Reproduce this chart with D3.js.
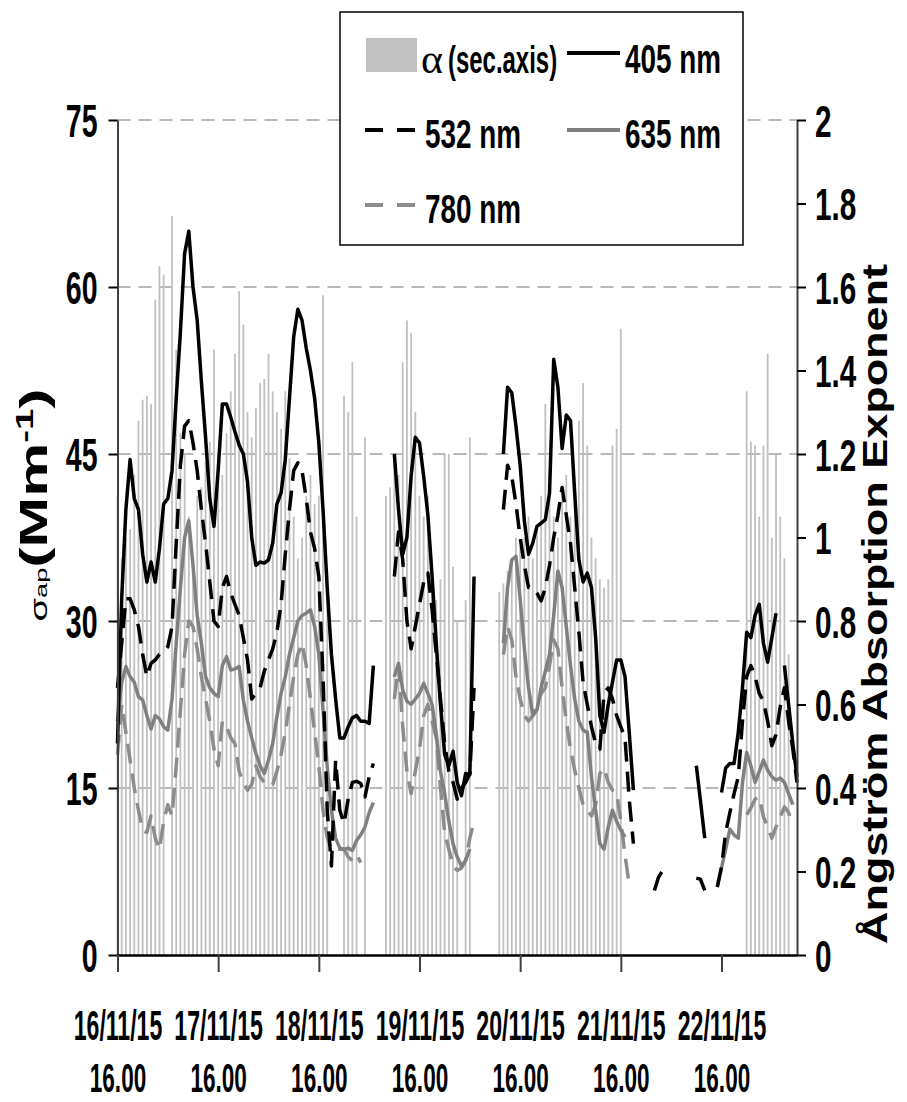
<!DOCTYPE html>
<html>
<head>
<meta charset="utf-8">
<title>Absorption coefficients and Ångström exponent</title>
<script src="https://cdnjs.cloudflare.com/ajax/libs/d3/7.8.5/d3.min.js"></script>
<style>
  body { margin: 0; background: #fff; }
  svg text { font-family: "Liberation Sans", Arial, sans-serif; font-weight: bold; fill: #000; }
</style>
</head>
<body>
<script>
// hourly readings, index = hours since 16/11/15 16.00
var n = null;

var dayTicks = [0, 24, 48, 72, 96, 120, 144];
var dayLabels = ["16/11/15", "17/11/15", "18/11/15", "19/11/15", "20/11/15", "21/11/15", "22/11/15"];
var timeLabel = "16.00";
var leftTicks = [0, 15, 30, 45, 60, 75];
var rightTicks = [0, 0.2, 0.4, 0.6, 0.8, 1, 1.2, 1.4, 1.6, 1.8, 2];

var s405 = [
  19, 32, 40, 44.5, 41, 40, 36, 33.5, 35.3, 33.5, 36.5, 40.5,
  41, 43.5, 50, 56, 63, 65, 60, 57, 51.5, 46.5, 41, 38.5,
  43.5, 49.5, 49.5, 48.3, 47, 45.8, 45, 42.5, 37.5, 35, 35.3, 35.2,
  35.5, 37, 40.5, 41.5, 44.5, 50, 55.5, 58, 57, 54.5, 52.5, 50,
  46, 40, 33, 27, 23, 19.5, 19.5, 20.5, 21.3, 21.5, 21, 21,
  20.8, 26, n, n, n, n, 45, 40, 36, 37.5, 43, 46.5,
  46, 43, 39.5, 34, 28, 22.5, 18, 17, 18.3, 15.5, 14.3, 16.3,
  16.2, 34, n, n, n, n, n, n, 45, 51, 50.5, 47.5,
  44, 39, 36, 37, 38.5, 38.8, 39.1, 41.5, 53.5, 51, 45.5, 48.5,
  48, 41.5, 35.5, 33.5, 34.3, 33, 28.5, 21.5, 20, 22.5, 24.5, 26.5,
  26.5, 25, 20, 14.8, n, n, n, n, n, n, n, n,
  n, n, n, n, n, n, 17, 13.8, 10.5, n, n, n,
  14.6, 16.8, 17.2, 17.2, 20, 24, 29, 28.5, 30.5, 31.5, 28, 26.3,
  28.5, 30.7, n, 26, 22.5, 19, 16
];

var s532 = [
  24, 28, 32, 32, 31, 29.5, 27, 25, 26.2, 26.5, 27, 27.2,
  27.7, 29.5, 37, 44, 47.5, 48, 46, 43.5, 40, 37, 33.5, 30,
  29.5, 33, 34, 32.5, 31.5, 30.5, 28.5, 26.5, 23, 23.5, 24, 25.5,
  26.5, 27.5, 29, 31.5, 36, 40, 43.5, 44.2, 43.5, 41, 38, 36.5,
  34, 25, 13, 8, 17.5, 13, 11.8, 14, 15.5, 15.6, 15.4, 14.2,
  16, 17.2, n, n, n, n, 34, 38, 35.5, 30, 27.5, 29.5,
  31.5, 33.5, 34.3, 31, 27, 23, 19, 16.5, 15.5, 14, 15, 15.5,
  16.3, 24, n, n, n, n, n, n, 40, 44, 43, 40.5,
  37.5, 35, 33, 33, 32.5, 31.8, 33, 35, 37.5, 39.5, 42, 39.5,
  37, 33, 29, 24.5, 22.5, 20.5, 19, 18.5, 23.5, 24, 23, 21.5,
  20.5, 19.5, 14, 10, n, n, n, n, 5.8, 7, 7.6, n,
  n, n, n, n, n, n, 6.9, 6.8, 5.8, n, n, 6.1,
  7.9, 11, 12.8, 14.5, 16, 21, 25, 26, 25, 23.5, 22.8, 21,
  18.8, 19.8, 22.3, 24, 21, 18.5, 15.5
];

var s635 = [
  21, 24.5, 25.9, 25, 24.5, 23.2, 22.9, 21.5, 20.3, 21.5, 21.2, 20.5,
  20.2, 23, 28, 33, 37.5, 39, 35, 30.5, 28, 25, 24, 23.5,
  23.2, 26, 26.8, 25.6, 25.7, 25.9, 22.9, 21, 19.5, 18.1, 17, 16.3,
  17.5, 19, 21.4, 23.5, 25, 27, 28.5, 30, 30.5, 30.7, 31, 29.5,
  27, 22, 16.9, 13, 10.5, 9.6, 9.5, 9.6, 9.4, 10.3, 10.8, 11.5,
  12.8, 13.7, n, n, n, n, 25, 26.2, 23.8, 22.8, 22.5, 23,
  23.5, 24.4, 23.5, 22.5, 19.8, 16.5, 14.5, 12, 10, 8.8, 8, 8.5,
  9.5, n, n, n, n, n, n, n, 28, 33, 35.5, 35.8,
  32, 27.5, 24, 21.5, 22, 24, 25.5, 27, 30.5, 34.5, 33, 29.5,
  26, 23, 21, 20.2, 20, 16, 13, 10, 9.5, 11.5, 13, 12,
  11.2, 10.6, n, n, n, n, n, n, n, n, n, n,
  n, n, n, n, n, n, n, n, n, n, n, 6.2,
  7.8, 9.5, 11.3, 10.8, 10.5, 15.5, 18.2, 17, 15.5, 16.5, 17.5, 16.6,
  16, 15.7, 15.9, 15.5, 14.5, 13.5, n
];

var s780 = [
  18, 22.5, 20, 17.5, 15, 13, 11.2, 11, 12.5, 10.5, 9.5, 12,
  13.5, 12.5, 17, 22, 27, 30, 29.5, 27.5, 25, 23, 21, 18.5,
  17, 21, 20.5, 19.5, 19, 16.5, 15.5, 14.8, 15.3, 17, 16, 15.5,
  15.2, 15.3, 16.5, 18, 20, 22.5, 25, 27, 28, 26, 23, 20,
  17, 13, 10.5, 9.5, 9.5, 9.5, 9.5, 8.8, 8.5, 9, 8.3, n,
  n, n, n, n, n, n, 23, 26, 20.5, 16.5, 14.5, 16.5,
  18.5, 21.5, 22.5, 21, 19.5, 15, 11, 9.5, 8, 7.6, 7.8, 8.5,
  10.5, 12, n, n, n, n, n, n, 27, 29.5, 28.3, 25,
  23, 21.5, 21, 21.5, 22.5, 23.5, 24, 26, 28.3, 27.5, 24, 21,
  18.5, 16.6, 15, 13.5, 13, 12.5, 13.5, 16.3, 16.8, 15.5, 14.8, 14.6,
  12, 9, 6.3, n, n, n, n, n, n, n, n, n,
  n, n, n, n, n, n, n, n, n, n, n, n,
  n, n, n, n, n, n, 12.6, 13.2, 14, 14.2, 12.4, 11.5,
  10.5, 11.5, 12.4, 13.3, 12.8, 11.7, n
];

// Ångström absorption exponent (secondary axis)
var alpha = [
  1.1, 0.95, 1.0, 1.02, 1.15, 1.28, 1.33, 1.34, 1.32, 1.57, 1.65, 1.63,
  n, 1.77, 1.45, 1.25, 1.2, 1.05, 0.95, 1.1, 1.12, 1.18, 1.23, 1.45,
  1.2, 1.15, 1.25, 1.35, 1.44, 1.59, 1.51, 1.3, 1.24, 1.31, 1.37, 1.38,
  1.44, 1.35, 1.3, 1.26, 1.35, 1.19, 1.05, 0.95, 1.0, 1.1, 1.15, 1.08,
  1.1, 1.58, 0.9, n, n, n, 1.34, 1.3, 1.42, 1.05, n, 1.24,
  n, n, n, n, 1.1, 1.12, 1.2, 1.15, 1.42, 1.52, 1.49, 1.3,
  1.1, 1.05, 1.1, 0.95, 0.85, 0.9, 1.2, 1.2, 0.93, 0.8, n, 0.85,
  1.24, n, n, n, n, n, n, 0.87, 0.89, 0.92, 0.95, 1.0,
  0.98, 1.0, 1.05, 0.95, 1.02, 1.1, 1.32, 1.15, 1.05, 1.0, 1.1, 1.15,
  1.05, 1.1, 1.28, 1.37, 1.22, 1.0, 0.95, 0.9, 0.88, 0.9, 1.22, 1.26,
  1.5, n, n, n, n, n, n, n, n, n, n, n,
  n, n, n, n, n, n, n, n, n, n, n, n,
  n, n, n, n, n, n, 1.35, 1.23, 1.22, 1.05, 1.22, 1.44,
  1.0, 1.2, 1.05, 0.95, 0.72, n, n
];

var W = 907, H = 1102;
var plotL = 117.5, plotR = 797, plotT = 120, plotB = 955;

var svg = d3.select("body").append("svg")
  .attr("width", W)
  .attr("height", H);

var x = d3.scaleLinear().domain([0, 162]).range([plotL, plotR]);
var yL = d3.scaleLinear().domain([0, 75]).range([plotB, plotT]);
var yR = d3.scaleLinear().domain([0, 2]).range([plotB, plotT]);

// dashed gridlines
svg.append("g").selectAll("line")
  .data(leftTicks.filter(function(d) { return d > 0; }))
  .join("line")
  .attr("x1", plotL).attr("x2", plotR)
  .attr("y1", function(d) { return yL(d); })
  .attr("y2", function(d) { return yL(d); })
  .attr("stroke", "#b8b8b8")
  .attr("stroke-width", 2)
  .attr("stroke-dasharray", "13,8");

// alpha bars
svg.append("g").selectAll("rect")
  .data(alpha.map(function(a, i) { return { i: i, a: a }; }).filter(function(d) { return d.a != null; }))
  .join("rect")
  .attr("x", function(d) { return x(d.i) - 0.9; })
  .attr("width", 1.8)
  .attr("y", function(d) { return yR(d.a); })
  .attr("height", function(d) { return yR(0) - yR(d.a); })
  .attr("fill", "#c0c0c0");

// lines
var line = d3.line()
  .defined(function(d) { return d != null; })
  .x(function(d, i) { return x(i); })
  .y(function(d) { return yL(d); });

var series = [
  { data: s780, color: "#8c8c8c", dash: "20,10" },
  { data: s635, color: "#808080", dash: null },
  { data: s532, color: "#000", dash: "20,10" },
  { data: s405, color: "#000", dash: null }
];

svg.append("g").selectAll("path")
  .data(series)
  .join("path")
  .attr("d", function(s) { return line(s.data); })
  .attr("fill", "none")
  .attr("stroke", function(s) { return s.color; })
  .attr("stroke-width", 3.5)
  .attr("stroke-linejoin", "round")
  .attr("stroke-dasharray", function(s) { return s.dash; });

// left axis
var gL = svg.append("g")
  .attr("transform", "translate(" + plotL + ",0)")
  .call(d3.axisLeft(yL).tickValues(leftTicks).tickSize(9).tickSizeOuter(0));
gL.select(".domain").attr("stroke", "#404040").attr("stroke-width", 2);
gL.selectAll(".tick line").attr("stroke", "#000").attr("stroke-width", 2);
gL.selectAll(".tick text")
  .attr("x", -20 / 0.62)
  .attr("dy", "0.36em")
  .attr("transform", "scale(0.62,1)")
  .style("font-size", "46px");

// right axis
var gR = svg.append("g")
  .attr("transform", "translate(" + plotR + ",0)")
  .call(d3.axisRight(yR).tickValues(rightTicks).tickSize(9).tickSizeOuter(0)
    .tickFormat(function(d) { return String(+d.toFixed(1)); }));
gR.select(".domain").attr("stroke", "#404040").attr("stroke-width", 2);
gR.selectAll(".tick line").attr("stroke", "#000").attr("stroke-width", 2);
gR.selectAll(".tick text")
  .attr("x", 18 / 0.66)
  .attr("dy", "0.36em")
  .attr("transform", "scale(0.66,1)")
  .style("font-size", "45px");

// bottom axis
var gB = svg.append("g")
  .attr("transform", "translate(0," + plotB + ")")
  .call(d3.axisBottom(x).tickValues(dayTicks).tickSize(17).tickSizeOuter(0).tickFormat(""));
gB.select(".domain").attr("stroke", "#000").attr("stroke-width", 2.5);
gB.selectAll(".tick line").attr("stroke", "#404040").attr("stroke-width", 2);
gB.selectAll(".tick").each(function(d, i) {
  var t = d3.select(this);
  t.append("text")
    .attr("transform", "translate(0,85) scale(0.55,1)")
    .attr("text-anchor", "middle")
    .style("font-size", "42px")
    .text(dayLabels[i]);
  t.append("text")
    .attr("transform", "translate(0,137) scale(0.55,1)")
    .attr("text-anchor", "middle")
    .style("font-size", "41px")
    .text(timeLabel);
});

// left axis title
var tl = svg.append("text")
  .attr("transform", "translate(47,505) rotate(-90) scale(1.6,1)")
  .attr("text-anchor", "middle");
tl.append("tspan").style("font-weight", "normal").style("font-size", "24px").text("σ");
tl.append("tspan").style("font-weight", "normal").style("font-size", "17px").text("ap");
tl.append("tspan").style("font-size", "38px").text("(Mm");
tl.append("tspan").style("font-size", "24px").attr("dy", -14).text("-1");
tl.append("tspan").style("font-size", "38px").attr("dy", 14).text(")");

// right axis title
svg.append("text")
  .attr("transform", "translate(887,604) rotate(-90)")
  .attr("text-anchor", "middle")
  .attr("textLength", 680)
  .attr("lengthAdjust", "spacingAndGlyphs")
  .style("font-size", "35px")
  .text("Ångström Absorption Exponent");

// legend
var lg = svg.append("g");
lg.append("rect")
  .attr("x", 340).attr("y", 12).attr("width", 403).attr("height", 233)
  .attr("fill", "#fff").attr("stroke", "#000").attr("stroke-width", 1.5);

lg.append("rect")
  .attr("x", 366).attr("y", 38).attr("width", 51).attr("height", 34)
  .attr("fill", "#c0c0c0");
lg.append("text")
  .attr("x", 421).attr("y", 73)
  .style("font-family", "'Liberation Serif', 'DejaVu Serif', serif")
  .style("font-weight", "normal")
  .style("font-size", "42px")
  .text("α");
lg.append("text")
  .attr("transform", "translate(448,73) scale(0.63,1)")
  .style("font-size", "38px")
  .text("(sec.axis)");

var legendItems = [
  { label: "405 nm", color: "#000", dash: null, x: 567, y: 53, tx: 625, ty: 73 },
  { label: "532 nm", color: "#000", dash: "18,14", x: 365, y: 130, tx: 425, ty: 148 },
  { label: "635 nm", color: "#808080", dash: null, x: 567, y: 130, tx: 625, ty: 148 },
  { label: "780 nm", color: "#8c8c8c", dash: "18,14", x: 365, y: 205, tx: 425, ty: 223 }
];
var li = lg.selectAll("g.item").data(legendItems).join("g").attr("class", "item");
li.append("line")
  .attr("x1", function(d) { return d.x; })
  .attr("x2", function(d) { return d.x + 53; })
  .attr("y1", function(d) { return d.y; })
  .attr("y2", function(d) { return d.y; })
  .attr("stroke", function(d) { return d.color; })
  .attr("stroke-width", 4)
  .attr("stroke-dasharray", function(d) { return d.dash; });
li.append("text")
  .attr("transform", function(d) { return "translate(" + d.tx + "," + d.ty + ") scale(0.68,1)"; })
  .style("font-size", "41px")
  .text(function(d) { return d.label; });
</script>
</body>
</html>
